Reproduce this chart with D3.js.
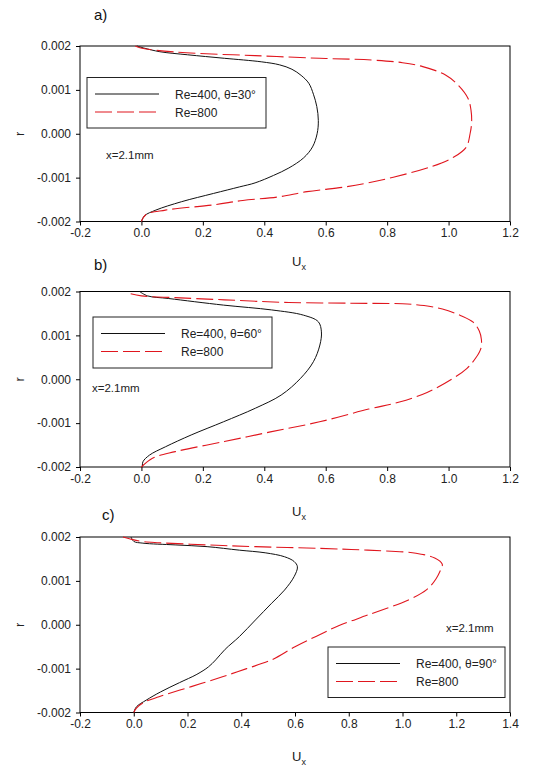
<!DOCTYPE html>
<html><head><meta charset="utf-8">
<script src="https://cdn.jsdelivr.net/npm/d3@7"></script>
<style>
body{margin:0;background:#fff;}
svg{display:block;}
text{font-family:"Liberation Sans",Arial,sans-serif;}
</style></head>
<body>
<svg id="chart" width="542" height="767"></svg>
<script>
// ---------- data ----------
const panelLabels = ["a)", "b)", "c)"];
const legendBlack = ["Re=400, \u03b8=30\u00b0", "Re=400, \u03b8=60\u00b0", "Re=400, \u03b8=90\u00b0"];
const legendRed = "Re=800";
const annotation = "x=2.1mm";
const yTicks = [0.002, 0.001, 0.0, -0.001, -0.002];
const yTickLabels = ["0.002", "0.001", "0.000", "-0.001", "-0.002"];
const xTicksAB = [-0.2, 0.0, 0.2, 0.4, 0.6, 0.8, 1.0, 1.2];
const xTickLabelsAB = ["-0.2", "0.0", "0.2", "0.4", "0.6", "0.8", "1.0", "1.2"];
const xTicksC = [-0.2, 0.0, 0.2, 0.4, 0.6, 0.8, 1.0, 1.2, 1.4];
const xTickLabelsC = ["-0.2", "0.0", "0.2", "0.4", "0.6", "0.8", "1.0", "1.2", "1.4"];

// [Ux, r]
const blackA = [[-0.015,0.002],[0.01,0.00195],[0.06,0.00187],[0.15,0.0018],[0.27,0.00172],[0.39,0.00164],[0.45,0.00157],[0.49,0.00147],[0.52,0.00133],[0.545,0.00115],[0.56,0.0009],[0.571,0.00062],[0.576,0.0003],[0.572,0.0],[0.557,-0.0003],[0.528,-0.00055],[0.48,-0.00078],[0.43,-0.00095],[0.37,-0.00112],[0.32,-0.00121],[0.235,-0.00136],[0.13,-0.00155],[0.047,-0.00174],[0.01,-0.00187],[0.0,-0.002]];
const redA = [[-0.02,0.002],[-0.005,0.00196],[0.05,0.0019],[0.16,0.00184],[0.37,0.00178],[0.58,0.00172],[0.75,0.00168],[0.85,0.00162],[0.916,0.00153],[0.99,0.00134],[1.031,0.00111],[1.063,0.00081],[1.073,0.00054],[1.075,0.00025],[1.07,0.0],[1.058,-0.0003],[1.02,-0.00052],[0.944,-0.00075],[0.82,-0.00099],[0.738,-0.00112],[0.665,-0.00121],[0.539,-0.00132],[0.445,-0.00144],[0.33,-0.00152],[0.235,-0.00162],[0.078,-0.00174],[0.015,-0.00184],[0.0,-0.002]];
const blackB = [[-0.006,0.002],[0.02,0.0019],[0.089,0.00184],[0.267,0.00169],[0.424,0.00158],[0.528,0.00146],[0.576,0.00131],[0.586,0.00108],[0.581,0.00078],[0.56,0.0004],[0.518,0.00002],[0.455,-0.00036],[0.371,-0.00066],[0.267,-0.00097],[0.162,-0.00127],[0.078,-0.00154],[0.026,-0.00173],[0.005,-0.00188],[0.003,-0.002]];
const redB = [[-0.035,0.00195],[0.0,0.0019],[0.11,0.00186],[0.27,0.00181],[0.48,0.00175],[0.74,0.00173],[0.85,0.00172],[0.92,0.00168],[0.98,0.0016],[1.04,0.00145],[1.08,0.0013],[1.1,0.0011],[1.107,0.0009],[1.105,0.0007],[1.09,0.0005],[1.06,0.00025],[1.01,0.0],[0.93,-0.0003],[0.84,-0.00052],[0.74,-0.00068],[0.58,-0.00097],[0.42,-0.0012],[0.27,-0.00142],[0.11,-0.00165],[0.036,-0.0018],[0.0,-0.002]];
const blackC = [[-0.01,0.002],[0.0,0.0019],[0.034,0.00186],[0.154,0.00182],[0.273,0.00178],[0.393,0.0017],[0.489,0.00164],[0.561,0.00155],[0.597,0.00144],[0.609,0.00132],[0.597,0.0011],[0.561,0.00079],[0.513,0.00049],[0.453,0.00011],[0.393,-0.00027],[0.34,-0.00056],[0.305,-0.0008],[0.278,-0.00096],[0.235,-0.00113],[0.17,-0.00132],[0.1,-0.00153],[0.046,-0.00172],[0.01,-0.00187],[0.0,-0.002]];
const redC = [[-0.04,0.002],[-0.01,0.00195],[0.03,0.0019],[0.094,0.00187],[0.273,0.00182],[0.453,0.00178],[0.693,0.00174],[0.87,0.0017],[1.05,0.00163],[1.12,0.00152],[1.148,0.00138],[1.145,0.0013],[1.125,0.00105],[1.09,0.0008],[1.02,0.00056],[0.87,0.00022],[0.76,-0.00003],[0.68,-0.00026],[0.6,-0.0005],[0.513,-0.0008],[0.42,-0.001],[0.333,-0.00118],[0.214,-0.00141],[0.094,-0.00164],[0.034,-0.00178],[0.01,-0.0019],[0.0,-0.002]];

// ---------- layout ----------
const svg = d3.select("#chart");
const L = 80, R = 510;
const panels = [
  {top:46, xDomain:[-0.2,1.2], xt:xTicksAB, xl:xTickLabelsAB, black:blackA, red:redA, label:panelLabels[0], legB:legendBlack[0],
   labelPos:[94,20], titleY:266, leg:{x:87,y:77.5,w:179,h:50.5}, ann:[106,159]},
  {top:291.5, xDomain:[-0.2,1.2], xt:xTicksAB, xl:xTickLabelsAB, black:blackB, red:redB, label:panelLabels[1], legB:legendBlack[1],
   labelPos:[94,270], titleY:516, leg:{x:93,y:317,w:179,h:51}, ann:[92,392]},
  {top:537, xDomain:[-0.2,1.4], xt:xTicksC, xl:xTickLabelsC, black:blackC, red:redC, label:panelLabels[2], legB:legendBlack[2],
   labelPos:[102,520], titleY:761, leg:{x:328,y:647,w:177,h:50.5}, ann:[446,632]}
];
const H = 175.5;
const redColor = "#e0161e";

panels.forEach(p => {
  const x = d3.scaleLinear().domain(p.xDomain).range([L, R]);
  const y = d3.scaleLinear().domain([-0.002, 0.002]).range([p.top + H, p.top]);
  const g = svg.append("g");

  // frame
  g.append("rect").attr("x", L).attr("y", p.top).attr("width", R - L).attr("height", H)
    .attr("fill", "none").attr("stroke", "#000").attr("stroke-width", 1);

  // x axis
  const xAxis = d3.axisBottom(x).tickValues(p.xt).tickSize(4).tickPadding(3)
    .tickFormat((d, i) => p.xl[i]);
  const gx = g.append("g").attr("transform", `translate(0,${p.top + H})`).call(xAxis);
  gx.select(".domain").remove();
  gx.selectAll("line").attr("stroke", "#000");
  gx.selectAll("text").attr("font-size", 12).attr("fill", "#222")
    .attr("font-family", "'Liberation Sans',Arial,sans-serif");

  // y axis
  const yAxis = d3.axisLeft(y).tickValues(yTicks).tickSize(4).tickPadding(5)
    .tickFormat((d, i) => yTickLabels[i]);
  const gy = g.append("g").attr("transform", `translate(${L},0)`).call(yAxis);
  gy.select(".domain").remove();
  gy.selectAll("line").attr("stroke", "#000");
  gy.selectAll("text").attr("font-size", 12).attr("fill", "#222")
    .attr("font-family", "'Liberation Sans',Arial,sans-serif");

  // axis titles
  g.append("text").attr("transform", `translate(24,${p.top + H / 2}) rotate(-90)`)
    .attr("text-anchor", "middle").attr("font-size", 13).attr("fill", "#222").text("r");
  const t = g.append("text").attr("x", 299).attr("y", p.titleY)
    .attr("text-anchor", "middle").attr("font-size", 13).attr("fill", "#222");
  t.append("tspan").text("U");
  t.append("tspan").attr("font-size", 9).attr("dy", 4).text("x");

  // panel label
  g.append("text").attr("x", p.labelPos[0]).attr("y", p.labelPos[1])
    .attr("font-family", "'Liberation Serif','Times New Roman',serif")
    .attr("font-size", 15).attr("fill", "#111").text(p.label);

  // curves
  const line = d3.line().x(d => x(d[0])).y(d => y(d[1])).curve(d3.curveCatmullRom.alpha(0.5));
  g.append("path").datum(p.black).attr("d", line).attr("fill", "none")
    .attr("stroke", "#111").attr("stroke-width", 1);
  g.append("path").datum(p.red).attr("d", line).attr("fill", "none")
    .attr("stroke", redColor).attr("stroke-width", 1.1).attr("stroke-dasharray", "17,5");

  // legend
  const lg = g.append("g");
  lg.append("rect").attr("x", p.leg.x).attr("y", p.leg.y).attr("width", p.leg.w).attr("height", p.leg.h)
    .attr("fill", "#fff").attr("stroke", "#222").attr("stroke-width", 1);
  const r1 = p.leg.y + 16.5, r2 = p.leg.y + 34.5;
  lg.append("line").attr("x1", p.leg.x + 8).attr("x2", p.leg.x + 72).attr("y1", r1).attr("y2", r1)
    .attr("stroke", "#111").attr("stroke-width", 1);
  lg.append("line").attr("x1", p.leg.x + 8).attr("x2", p.leg.x + 70).attr("y1", r2).attr("y2", r2)
    .attr("stroke", redColor).attr("stroke-width", 1.1).attr("stroke-dasharray", "17,5");
  lg.append("text").attr("x", p.leg.x + 88).attr("y", r1 + 4.5).attr("font-size", 12).attr("fill", "#222").text(p.legB);
  lg.append("text").attr("x", p.leg.x + 88).attr("y", r2 + 4.5).attr("font-size", 12).attr("fill", "#222").text(legendRed);

  // annotation
  g.append("text").attr("x", p.ann[0]).attr("y", p.ann[1]).attr("font-size", 11.5).attr("fill", "#222").text(annotation);
});
</script>
</body></html>
